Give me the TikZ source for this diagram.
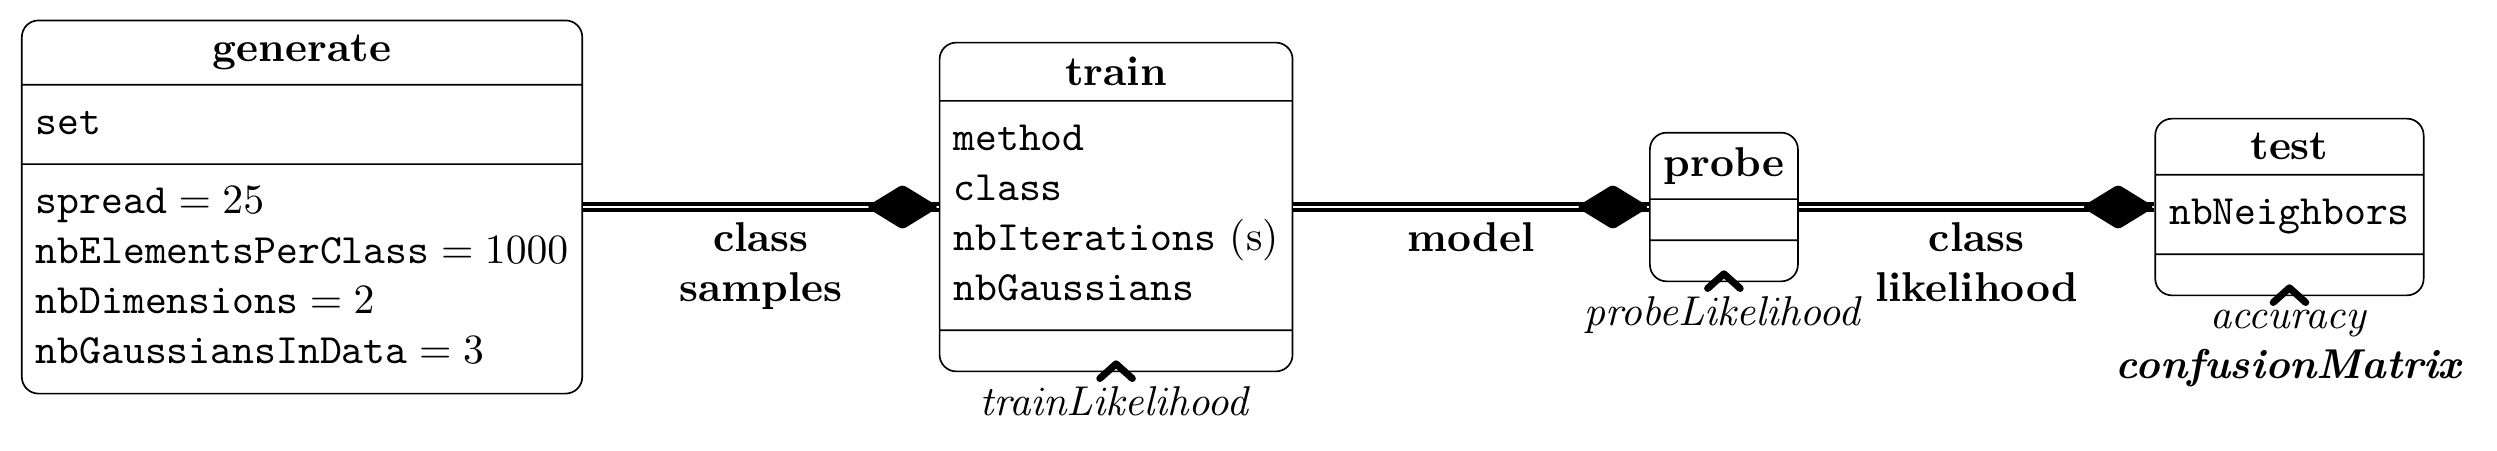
\documentclass[tikz,border=0pt]{standalone}
\usepackage{amsmath}
\usetikzlibrary{positioning, shapes.multipart, shapes.geometric}

\begin{document}
\begin{tikzpicture}[
		umlclass/.style={draw, rounded corners, rectangle split, rectangle split parts=3,
			rectangle split part align={center,left,left},
			rectangle split empty part height=2.8pt},
		comp/.style={diamond, draw, fill, line join=round, rounded corners=0.8pt, inner sep=0pt,
			minimum width=17pt, minimum height=10.5pt},
		link/.style={double, line width=0.8pt, double distance=0.6pt},
		lbl/.style={font=\bfseries, align=center},
		hat/.style={line width=1.7pt, line cap=round, line join=round}
	]
		\useasboundingbox (-5.04pt,-58.32pt) rectangle (594.24pt,49.68pt);

		\node[umlclass, anchor=west] (generate) at (0,0) {\textbf{generate}
			\nodepart{second}\begin{tabular}{@{}l@{}}\texttt{set}\end{tabular}
			\nodepart{third}\begin{tabular}{@{}l@{}}
				$\texttt{spread} = 25$\\
				$\texttt{nbElementsPerClass} = 1000$\\
				$\texttt{nbDimensions} = 2$\\
				$\texttt{nbGaussiansInData} = 3$
			\end{tabular}};
		\node[umlclass, right=3cm of generate] (train) {\textbf{train}
			\nodepart{second}\begin{tabular}{@{}l@{}}
				\texttt{method}\\
				\texttt{class}\\
				\texttt{nbIterations} (s)\\
				\texttt{nbGaussians}
			\end{tabular}
			\nodepart{third}\rule{0pt}{2.8pt}};
		\node[umlclass, right=3cm of train] (probe) {\textbf{probe}
			\nodepart{second}\rule{0pt}{2.8pt}
			\nodepart{third}\rule{0pt}{2.8pt}};
		\node[umlclass, right=3cm of probe] (test) {\textbf{test}
			\nodepart{second}\begin{tabular}{@{}l@{}}\texttt{nbNeighbors}\end{tabular}
			\nodepart{third}\rule{0pt}{2.8pt}};

		% compositions
		\draw[link] (generate) -- node[below, lbl] {class\\samples} (train);
		\draw[link] (train) -- node[below, lbl] {model} (probe);
		\draw[link] (probe) -- node[below, lbl] {class\\likelihood} (test);
		\node[comp, left=0pt of train] (d1) {};
		\node[comp, left=0pt of probe] (d2) {};
		\node[comp, left=0pt of test] (d3) {};

		% outputs
		\foreach \c in {train, probe, test} {
			\draw[hat] ([shift={(-3.9pt,-1.5pt)}]\c.south) -- ([yshift=2pt]\c.south)
				-- ([shift={(3.9pt,-1.5pt)}]\c.south);
		}
		\node[below=0pt of train] (trainout) {$\mathit{trainLikelihood}$};
		\node[below=0pt of probe] (probeout) {$\mathit{probeLikelihood}$};
		\node[below=0pt of test, align=center] (testout) {$\mathit{accuracy}$\\\textbf{\textit{confusionMatrix}}};
	\end{tikzpicture}
\end{document}
